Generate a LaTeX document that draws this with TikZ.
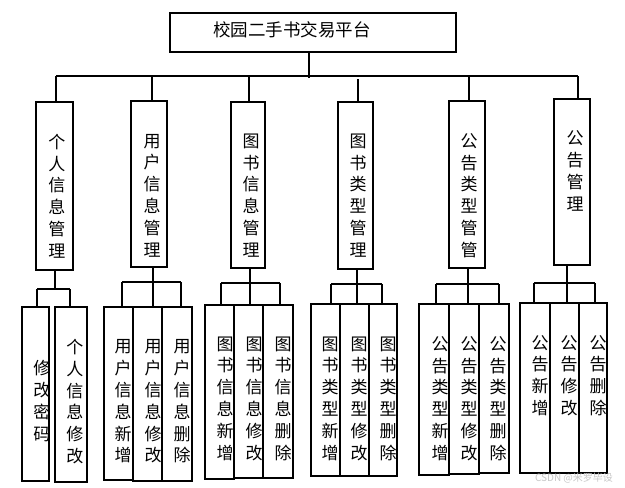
\documentclass[tikz,border=0pt]{standalone}
\usepackage{fontspec}
\newfontfamily\cjk{Noto Sans CJK SC}
\begin{document}
\begin{tikzpicture}[x=1pt,y=-1pt,
  box/.style={draw=black,line width=1.2pt,inner sep=0pt,outer sep=0pt,fill=none},
  vtext/.style={font=\cjk\fontsize{17}{21.8}\selectfont,align=center,inner sep=0pt},
  title/.style={font=\cjk\fontsize{17.5}{20}\selectfont,inner sep=0pt},
  wire/.style={line width=1.2pt,draw=black}]
\useasboundingbox (0,0) rectangle (625,488);
\newcommand\Bx[5]{\node[box,minimum width={(#4-#2)*1pt},minimum height={(#5-#3)*1pt}] (#1) at ({(#2+#4)/2},{(#3+#5)/2}) {};}
% root
\Bx{root}{170}{13}{456}{52}
\node[title] (roott) at (292,30) {校园二手书交易平台};
% level 2
\Bx{p1}{36}{102}{73}{270}
\Bx{p2}{131}{101}{167}{267}
\Bx{p3}{231}{102}{265}{268}
\Bx{p4}{338}{102}{373}{269}
\Bx{p5}{449}{101}{485}{268}
\Bx{p6}{554}{99}{590}{265}
\node[vtext] (t1) at (57,196) {个\\人\\信\\息\\管\\理};
\node[vtext] (t2) at (152,195.5) {用\\户\\信\\息\\管\\理};
\node[vtext] (t3) at (251,195.5) {图\\书\\信\\息\\管\\理};
\node[vtext] (t4) at (358,195.5) {图\\书\\类\\型\\管\\理};
\node[vtext] (t5) at (469,195.5) {公\\告\\类\\型\\管\\管};
\node[vtext] (t6) at (575,171) {公\\告\\管\\理};
% bus
\coordinate (rs) at (309,78);
\coordinate (busL) at (56,76);
\coordinate (busR) at (578,76);
\draw[wire] (root.south -| rs) -- (rs);
\draw[wire] (busL) -- (busR);
\coordinate (d1) at (56,76);
\coordinate (d2) at (152,76);
\coordinate (d3) at (249,76);
\coordinate (d4) at (358,79);
\coordinate (d5) at (469,76);
\coordinate (d6) at (578,76);
\draw[wire] (d1) -- (d1 |- p1.north);
\draw[wire] (d2) -- (d2 |- p2.north);
\draw[wire] (d3) -- (d3 |- p3.north);
\draw[wire] (d4) -- (d4 |- p4.north);
\draw[wire] (d5) -- (d5 |- p5.north);
\draw[wire] (d6) -- (d6 |- p6.north);
% level 3 boxes
\Bx{a1}{22}{307}{49}{481}
\Bx{a2}{55}{307}{87}{482}
\Bx{b1}{104}{307}{133}{480}
\Bx{b2}{133}{307}{162}{481}
\Bx{b3}{162}{307}{192}{481}
\Bx{c1}{205}{305}{234}{479}
\Bx{c2}{234}{305}{263}{478}
\Bx{c3}{263}{305}{293}{478}
\Bx{e1}{311}{304}{340}{476}
\Bx{e2}{340}{304}{369}{476}
\Bx{e3}{369}{304}{397}{476}
\Bx{f1}{419}{304}{449}{475}
\Bx{f2}{449}{304}{479}{474}
\Bx{f3}{479}{304}{509}{473}
\Bx{g1}{520}{303}{550}{473}
\Bx{g2}{550}{303}{579}{473}
\Bx{g3}{579}{303}{607}{473}
% level 3 texts
\node[vtext] (ta1) at (42,401) {修\\改\\密\\码};
\node[vtext] (ta2) at (75,401.5) {个\\人\\信\\息\\修\\改};
\node[vtext] (tb1) at (123,401.5) {用\\户\\信\\息\\新\\增};
\node[vtext] (tb2) at (153,401.5) {用\\户\\信\\息\\修\\改};
\node[vtext] (tb3) at (182,401.5) {用\\户\\信\\息\\删\\除};
\node[vtext] (tc1) at (225,398.5) {图\\书\\信\\息\\新\\增};
\node[vtext] (tc2) at (254,398.5) {图\\书\\信\\息\\修\\改};
\node[vtext] (tc3) at (283,398.5) {图\\书\\信\\息\\删\\除};
\node[vtext] (te1) at (330,398.5) {图\\书\\类\\型\\新\\增};
\node[vtext] (te2) at (359,398.5) {图\\书\\类\\型\\修\\改};
\node[vtext] (te3) at (388,398.5) {图\\书\\类\\型\\删\\除};
\node[vtext] (tf1) at (440,398.5) {公\\告\\类\\型\\新\\增};
\node[vtext] (tf2) at (469,398.5) {公\\告\\类\\型\\修\\改};
\node[vtext] (tf3) at (498,398.5) {公\\告\\类\\型\\删\\除};
\node[vtext] (tg1) at (540,375.5) {公\\告\\新\\增};
\node[vtext] (tg2) at (569,375.5) {公\\告\\修\\改};
\node[vtext] (tg3) at (598,375.5) {公\\告\\删\\除};
% level 3 connectors
\coordinate (h1) at (55,289);
\draw[wire] (p1.south -| h1) -- (h1);
\coordinate (h1L) at (37,289); \coordinate (h1R) at (70,289);
\draw[wire] (h1L) -- (h1R);
\draw[wire] (h1L) -- (h1L |- a1.north);
\draw[wire] (h1R) -- (h1R |- a2.north);
\coordinate (h2) at (153,282);
\draw[wire] (p2.south -| h2) -- (h2);
\coordinate (h2L) at (122,282); \coordinate (h2R) at (181,282);
\draw[wire] (h2L) -- (h2R);
\draw[wire] (h2L) -- (h2L |- b1.north);
\draw[wire] (h2) -- (h2 |- b2.north);
\draw[wire] (h2R) -- (h2R |- b3.north);
\coordinate (h3) at (250,283);
\draw[wire] (p3.south -| h3) -- (h3);
\coordinate (h3L) at (221,283); \coordinate (h3R) at (280,283);
\draw[wire] (h3L) -- (h3R);
\draw[wire] (h3L) -- (h3L |- c1.north);
\draw[wire] (h3) -- (h3 |- c2.north);
\draw[wire] (h3R) -- (h3R |- c3.north);
\coordinate (h4) at (357,284);
\draw[wire] (p4.south -| h4) -- (h4);
\coordinate (h4L) at (331,284); \coordinate (h4R) at (382,284);
\draw[wire] (h4L) -- (h4R);
\draw[wire] (h4L) -- (h4L |- e1.north);
\draw[wire] (h4) -- (h4 |- e2.north);
\draw[wire] (h4R) -- (h4R |- e3.north);
\coordinate (h5) at (468,284);
\draw[wire] (p5.south -| h5) -- (h5);
\coordinate (h5L) at (436,284); \coordinate (h5R) at (499,284);
\draw[wire] (h5L) -- (h5R);
\draw[wire] (h5L) -- (h5L |- f1.north);
\draw[wire] (h5) -- (h5 |- f2.north);
\draw[wire] (h5R) -- (h5R |- f3.north);
\coordinate (h6) at (567,283);
\draw[wire] (p6.south -| h6) -- (h6);
\coordinate (h6L) at (534,283); \coordinate (h6R) at (595,283);
\draw[wire] (h6L) -- (h6R);
\draw[wire] (h6L) -- (h6L |- g1.north);
\draw[wire] (h6) -- (h6 |- g2.north);
\draw[wire] (h6R) -- (h6R |- g3.north);
% watermark
\node[font=\cjk\fontsize{10}{12}\selectfont,text=black!22,inner sep=0pt] (wm) at (574,478) {CSDN @米罗毕设};
\end{tikzpicture}
\end{document}
